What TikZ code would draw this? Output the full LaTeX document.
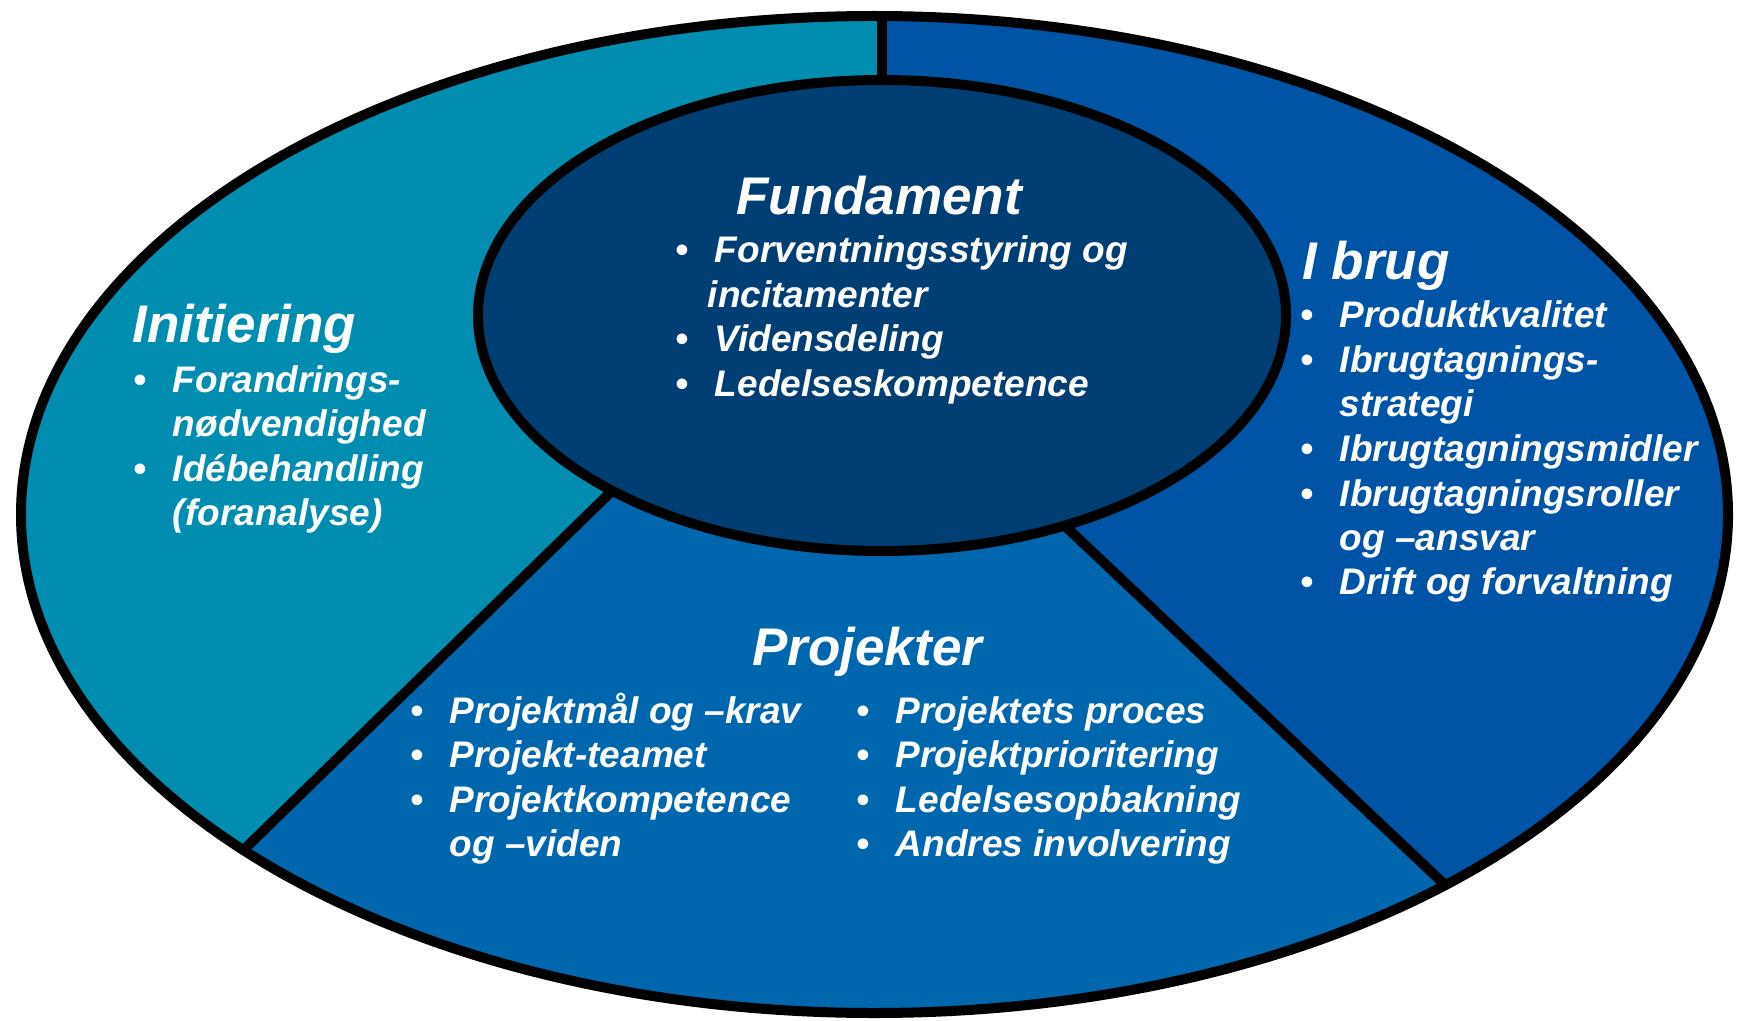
\documentclass[tikz,border=0pt]{standalone}
\usepackage{fontspec}
\setmainfont{Liberation Sans}
\usetikzlibrary{shapes.geometric,backgrounds,calc}

\definecolor{initcol}{HTML}{008DB0}
\definecolor{brugcol}{HTML}{0054A6}
\definecolor{projcol}{HTML}{0066AD}
\definecolor{fundcol}{HTML}{003E73}

% one bullet line and one continued line of a list
\newcommand{\itm}[1]{\hbox{\makebox[19.5pt][l]{\textbullet}#1}}
\newcommand{\cnt}[1]{\hbox{\hspace*{19.5pt}#1}}

\begin{document}
\begin{tikzpicture}[x=0.5pt, y=-0.5pt,
        ring/.style={ellipse, draw=black, line width=5pt, inner sep=0pt, outer sep=0pt},
        divider/.style={draw=black, line width=5pt},
        heading/.style={anchor=base west, inner sep=0pt, text=white, font=\fontsize{26.5}{30}\selectfont\bfseries\itshape},
        itemlist/.style={anchor=base west, inner sep=0pt, text=white, font=\fontsize{18.5}{22.25}\selectfont\bfseries\itshape},
    ]
    \useasboundingbox (0,0) rectangle (1738,1021);

    \node[ring, fill=fundcol, minimum width=404pt, minimum height=235.5pt] (inner) at (882,315.5) {};
    \node[ring, minimum width=853.5pt, minimum height=498.5pt] (outer) at (874.5,514.5) {};

    \draw[divider] (inner.north) -- (inner.north |- outer.north);
    \draw[divider] (inner.213) -- (outer.208.5);
    \draw[divider] (inner.311) -- (outer.327.6);

    \coordinate (lext) at ($(inner.213)!2!(outer.208.5)$);
    \coordinate (rext) at ($(inner.311)!2!(outer.327.6)$);

    \begin{scope}[on background layer]
        \fill[white] (0,0) rectangle (1738,1021);
        \begin{scope}
            \clip (outer.center) ellipse [x radius=426.75pt, y radius=249.25pt];
            \fill[projcol] (-50,-50) rectangle (1800,1100);
            \fill[initcol] (inner.north) -- (inner.north |- 0,-50) -- (-100,-50) -- (lext -| -100,0) -- (lext) -- (inner.213) -- cycle;
            \fill[brugcol] (inner.north) -- (inner.north |- 0,-50) -- (1850,-50) -- (rext -| 1850,0) -- (rext) -- (inner.311) -- cycle;
        \end{scope}
    \end{scope}

    % texts
    \node[heading] (fund) at (736,215) {Fundament};
    \node[itemlist] (fundlist) at (675.5,263) {\vtop{\itm{Forventningsstyring og}\hbox{\hspace*{16pt}incitamenter}\itm{Vidensdeling}\itm{Ledelseskompetence}}};

    \node[heading] (init) at (132,343) {Initiering};
    \node[itemlist] (initlist) at (133.5,392) {\vtop{\itm{Forandrings-}\cnt{nødvendighed}\itm{Idébehandling}\cnt{(foranalyse)}}};

    \node[heading] (brug) at (1302,280) {I brug};
    \node[itemlist] (bruglist) at (1300.5,328) {\vtop{\itm{Produktkvalitet}\itm{Ibrugtagnings-}\cnt{strategi}\itm{Ibrugtagningsmidler}\itm{Ibrugtagningsroller}\cnt{og –ansvar}\itm{Drift og forvaltning}}};

    \node[heading] (proj) at (752,665) {Projekter};
    \node[itemlist] (projleft) at (410.5,723) {\vtop{\itm{Projektmål og –krav}\itm{Projekt-teamet}\itm{Projektkompetence}\cnt{og –viden}}};
    \node[itemlist] (projright) at (856.5,723) {\vtop{\itm{Projektets proces}\itm{Projektprioritering}\itm{Ledelsesopbakning}\itm{Andres involvering}}};
\end{tikzpicture}
\end{document}
